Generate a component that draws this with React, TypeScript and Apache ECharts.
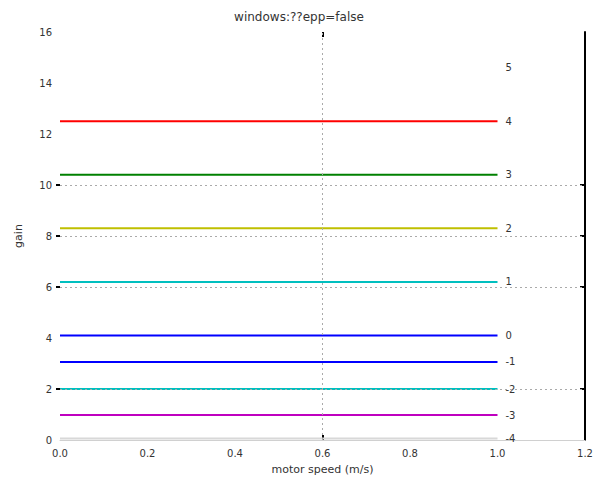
import React, { useEffect, useRef } from "react";
import * as echarts from "echarts";

const titleText = "windows:??epp=false";
const xName = "motor speed (m/s)";
const yName = "gain";

const lineNames = ["5", "4", "3", "2", "1", "0", "-1", "-2", "-3", "-4"];
const lineValues = [14.6, 12.5, 10.4, 8.3, 6.2, 4.1, 3.06, 2.0, 0.98, 0.06];
const lineColors = ["#ffffff", "#ff0000", "#008000", "#bfbf00", "#00bfbf", "#0000ff", "#0000ff", "#00bfbf", "#bf00bf", "#d8d8d8"];
const lineStart = 0;
const lineEnd = 1.0;

const gridY = [10, 8, 6, 2];
const gridX = [0.6];

export default function App() {
  const ref = useRef<HTMLDivElement>(null);
  useEffect(() => {
    if (!ref.current) return;
    const chart = echarts.init(ref.current, null, { renderer: "svg" });
    const font = "DejaVu Sans";
    const series: any[] = lineNames.map((name, i) => ({
      type: "line",
      name,
      data: [
        [lineStart, lineValues[i]],
        [lineEnd, lineValues[i]],
      ],
      symbol: "none",
      z: 3,
      lineStyle: { width: 2, color: lineColors[i] },
      itemStyle: { color: lineColors[i] },
      endLabel: {
        show: true,
        formatter: name,
        distance: 8,
        color: "#333",
        fontSize: 10,
        fontFamily: font,
      },
    }));
    series.push({
      type: "line",
      name: "grid",
      data: [[0, 0]],
      symbol: "none",
      z: 1,
      lineStyle: { opacity: 0 },
      markLine: {
        silent: true,
        symbol: "none",
        label: { show: false },
        lineStyle: { color: "#aaaaaa", type: [2, 3], width: 1 },
        data: [
          ...gridY.map((v) => ({ yAxis: v })),
          ...gridX.map((v) => ({ xAxis: v })),
        ],
      },
    });
    chart.setOption({
      animation: false,
      backgroundColor: "#ffffff",
      title: {
        text: titleText,
        left: "center",
        top: 6,
        textStyle: { fontSize: 12, fontWeight: "normal", color: "#333", fontFamily: font },
      },
      grid: { left: 60, right: 13, top: 32, bottom: 42 },
      xAxis: [
        {
          type: "value",
          min: 0,
          max: 1.2,
          interval: 0.2,
          position: "bottom",
          name: xName,
          nameLocation: "middle",
          nameGap: 24,
          nameTextStyle: { fontSize: 11, color: "#333", fontFamily: font },
          axisLine: { show: true, onZero: false, lineStyle: { color: "#d0d0d0", width: 1 } },
          axisTick: { show: true, inside: true, length: 5, customValues: gridX, lineStyle: { color: "#000", width: 2 } },
          axisLabel: { fontSize: 10, color: "#333", margin: 8, fontFamily: font, formatter: (v: number) => v.toFixed(1) },
          splitLine: { show: false },
        },
        {
          type: "value",
          min: 0,
          max: 1.2,
          interval: 0.2,
          position: "top",
          axisLine: { show: false, onZero: false },
          axisTick: { show: true, inside: true, length: 5, customValues: gridX, lineStyle: { color: "#000", width: 2 } },
          axisLabel: { show: false },
          splitLine: { show: false },
        },
      ],
      yAxis: [
        {
          type: "value",
          min: 0,
          max: 16,
          interval: 2,
          position: "left",
          name: yName,
          nameLocation: "middle",
          nameGap: 36,
          nameRotate: 90,
          nameTextStyle: { fontSize: 11, color: "#333", fontFamily: font },
          axisLine: { show: false, onZero: false },
          axisTick: { show: true, inside: false, length: 4, customValues: gridY, lineStyle: { color: "#000", width: 2 } },
          axisLabel: { fontSize: 10, color: "#333", margin: 8, fontFamily: font },
          splitLine: { show: false },
        },
        {
          type: "value",
          min: 0,
          max: 16,
          interval: 2,
          position: "right",
          axisLine: { show: true, onZero: false, lineStyle: { color: "#000", width: 2 } },
          axisTick: { show: true, inside: true, length: 5, customValues: gridY, lineStyle: { color: "#000", width: 2 } },
          axisLabel: { show: false },
          splitLine: { show: false },
        },
      ],
      series,
    });
    return () => chart.dispose();
  }, []);
  return (
    <div
      ref={ref}
      style={{ position: "fixed", left: 0, top: 0, width: 598, height: 482 }}
    />
  );
}
